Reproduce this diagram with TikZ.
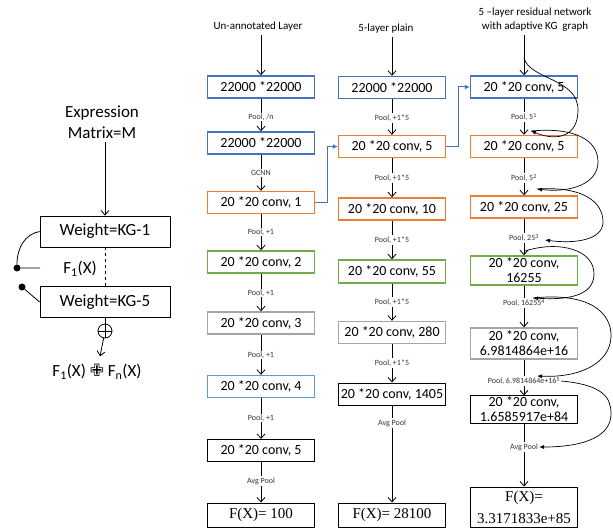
\documentclass[tikz,border=0pt]{standalone}
\usepackage{fontspec}
\setmainfont{Carlito}
\newfontfamily\timesfont{Liberation Serif}
\newfontfamily\symbolfont{DejaVu Sans}
\usetikzlibrary{arrows.meta}
\definecolor{kgblue}{HTML}{4472C4}
\definecolor{kglightblue}{HTML}{5B9BD5}
\definecolor{kgorange}{HTML}{ED7D31}
\definecolor{kggreen}{HTML}{70AD47}
\definecolor{kggray}{HTML}{A5A5A5}
\begin{document}
\begin{tikzpicture}[x=1pt,y=-1pt,>={Straight Barb[length=4.5pt,width=8pt]},
  layer/.style={draw,line width=1.4pt,minimum width=107pt,minimum height=22pt,inner sep=1pt,align=center,font=\fontsize{14}{15}\selectfont},
  plainlayer/.style={layer,draw=black,line width=1pt},
  pool/.style={inner sep=1pt,text=black!80,font=\fontsize{8}{9}\selectfont},
  heading/.style={align=center,font=\fontsize{11}{14}\selectfont},
  result/.style={draw,line width=1pt,minimum width=107pt,minimum height=24pt,inner sep=1pt,align=center,font=\timesfont\fontsize{15}{22}\selectfont},
  weight/.style={draw,line width=0.8pt,minimum width=130pt,minimum height=31pt,font=\fontsize{17}{21}\selectfont},
  big/.style={align=center,font=\fontsize{17}{21}\selectfont},
  flow/.style={->,line width=0.8pt},
  link/.style={-{Latex[length=5pt,width=5pt]},draw=kgblue,line width=1pt},
  skip/.style={-{Latex[length=5pt,width=4pt]},line width=0.7pt},
  dot/.style={circle,fill,inner sep=0pt,minimum size=7pt}]
\useasboundingbox (0,0) rectangle (613,529);
% left block
\node[big] (expr) at (102,122) {Expression\\Matrix=M};
\node[weight] (kg1) at (105,231.5) {Weight=KG-1};
\node[weight] (kg5) at (105,302) {Weight=KG-5};
\node[big] (f1) at (80,269) {F\textsubscript{1}(X)};
\node[dot] (d1) at (17,268) {};
\node[dot] (d2) at (22,287) {};
\coordinate (d1end) at (40,268);
\node[circle,draw,line width=0.8pt,minimum size=14pt,inner sep=0pt,
  path picture={\draw[line width=0.8pt] (path picture bounding box.west) -- (path picture bounding box.east)
  (path picture bounding box.north) -- (path picture bounding box.south);}] (plus) at (105,331) {};
\node[big,inner ysep=8pt] (sum) at (97,372) {F\textsubscript{1}(X) {\symbolfont ✙} F\textsubscript{n}(X)};
\draw[flow] (kg1 |- expr.south) -- (kg1);
\draw[dashed,line width=0.8pt] (kg1) -- (kg5);
\draw[line width=0.8pt] (kg1.west) .. controls (25,234) and (17,248) .. (d1) -- (d1end);
\draw[line width=0.8pt] (d2) -- (kg5.west);
\draw[line width=0.8pt] (kg5) -- (plus);
\draw[flow] (plus) -- (sum);
% un-annotated layer
\node[heading] (h1) at (258,27) {Un-annotated Layer};
\node[layer,draw=kgblue] (c1-1) at (261,87) {22000 *22000};
\node[pool] (p1-1) at (261,117) {Pool, /n};
\node[layer,draw=kgblue] (c1-2) at (261,143) {22000 *22000};
\node[pool] (p1-2) at (261,173) {GCNN};
\node[layer,draw=kgorange] (c1-3) at (261,202.5) {20 *20 conv, 1};
\node[pool] (p1-3) at (261,232) {Pool, +1};
\node[layer,draw=kggreen] (c1-4) at (261,262) {20 *20 conv, 2};
\node[pool] (p1-4) at (261,293) {Pool, +1};
\node[layer,draw=kggray] (c1-5) at (261,323) {20 *20 conv, 3};
\node[pool] (p1-5) at (261,355) {Pool, +1};
\node[layer,draw=kglightblue] (c1-6) at (261,386.5) {20 *20 conv, 4};
\node[pool] (p1-6) at (261,418) {Pool, +1};
\node[plainlayer] (c1-7) at (261,450.5) {20 *20 conv, 5};
\node[pool] (p1-7) at (261,481) {Avg Pool};
\node[result] (c1-8) at (261,515) {F(X)= 100};
% plain
\node[heading] (h2) at (386,29) {5-layer plain};
\node[layer,draw=kgblue] (c2-1) at (392,87.5) {22000 *22000};
\node[pool] (p2-1) at (392,118) {Pool, +1*5};
\node[layer,draw=kgorange] (c2-2) at (392,146.5) {20 *20 conv, 5};
\node[pool] (p2-2) at (392,178) {Pool, +1*5};
\node[layer,draw=kgorange] (c2-3) at (392,209) {20 *20 conv, 10};
\node[pool] (p2-3) at (392,240) {Pool, +1*5};
\node[layer,draw=kggreen,minimum height=23pt] (c2-4) at (392,271.5) {20 *20 conv, 55};
\node[pool] (p2-4) at (392,302) {Pool, +1*5};
\node[layer,draw=kggray] (c2-5) at (392,332.5) {20 *20 conv, 280};
\node[pool] (p2-5) at (392,363) {Pool, +1*5};
\node[plainlayer] (c2-6) at (392,394) {20 *20 conv, 1405};
\node[pool] (p2-6) at (392,423) {Avg Pool};
\node[result] (c2-7) at (392,515) {F(X)= 28100};
% residual
\node[heading] (h3) at (535,20) {5 --layer residual network\\with adaptive KG\ \ graph};
\node[layer,draw=kgblue] (c3-1) at (524,87) {20 *20 conv, 5};
\node[pool] (p3-1) at (524,117) {Pool, 5\textsuperscript{1}};
\node[layer,draw=kgorange] (c3-2) at (524,146.5) {20 *20 conv, 5};
\node[pool] (p3-2) at (524,178) {Pool, 5\textsuperscript{2}};
\node[layer,draw=kgorange] (c3-3) at (524,207) {20 *20 conv, 25};
\node[pool] (p3-3) at (524,238) {Pool, 25\textsuperscript{3}};
\node[layer,draw=kggreen,minimum height=29pt] (c3-4) at (524,270.5) {20 *20 conv,\\16255};
\node[pool] (p3-4) at (524,303) {Pool, 16255\textsuperscript{4}};
\node[layer,draw=kggray,minimum height=31pt] (c3-5) at (524,343.5) {20 *20 conv,\\6.9814864e+16};
\node[pool] (p3-5) at (524,381) {Pool, 6.9814864e+16\textsuperscript{5}};
\node[plainlayer,minimum height=27pt] (c3-6) at (524,409.5) {20 *20 conv,\\1.6585917e+84};
\node[pool] (p3-6) at (524,447) {Avg Pool};
\node[result,minimum height=40pt] (c3-7) at (524,507) {F(X)=\\3.3171833e+85};
% arrows
\foreach \col/\last in {1/7,2/6,3/6}
  \foreach \i [count=\j from 2] in {1,...,\last}
    \draw[flow] (c\col-\i) -- (p\col-\i) (p\col-\i) -- (c\col-\j);
\draw[flow] (c1-1 |- h1.south) -- (c1-1);
\draw[flow] (c2-1 |- h2.south) -- (c2-1);
\draw[flow] (c3-1 |- h3.south) -- (c3-1);
\draw[link] (c1-3.east) -- ++(12,0) |- (c2-2.west);
\draw[link] (c2-2.east) -- ++(12,0) |- (c3-1.west);
% skip connections
\coordinate (c3in) at (524,58);
\coordinate (k1) at (531,131);
\coordinate (k2) at (537,189);
\coordinate (k3) at (545,240);
\coordinate (k4in) at (525,251);
\coordinate (k4) at (533,298);
\coordinate (k5) at (537,376);
\draw[skip] (c3in) .. controls (530,80) and (578,78) .. (578,110) .. controls (578,136) and (558,142) .. (k1);
\draw[skip] (k1) .. controls (575,127) and (598,140) .. (598,162) .. controls (598,184) and (570,193) .. (k2);
\draw[skip] (k2) .. controls (585,186) and (603,203) .. (603,222) .. controls (603,240) and (575,244) .. (k3);
\draw[skip] (k4in) .. controls (560,240) and (595,250) .. (594,275) .. controls (593,297) and (565,300) .. (k4);
\draw[skip] (k4) .. controls (590,292) and (612,313) .. (611,337) .. controls (610,363) and (580,378) .. (k5);
\draw[skip] (p3-5.east) .. controls (604,385) and (611,398) .. (611,414) .. controls (611,436) and (585,447) .. (p3-6.east);
\end{tikzpicture}
\end{document}
